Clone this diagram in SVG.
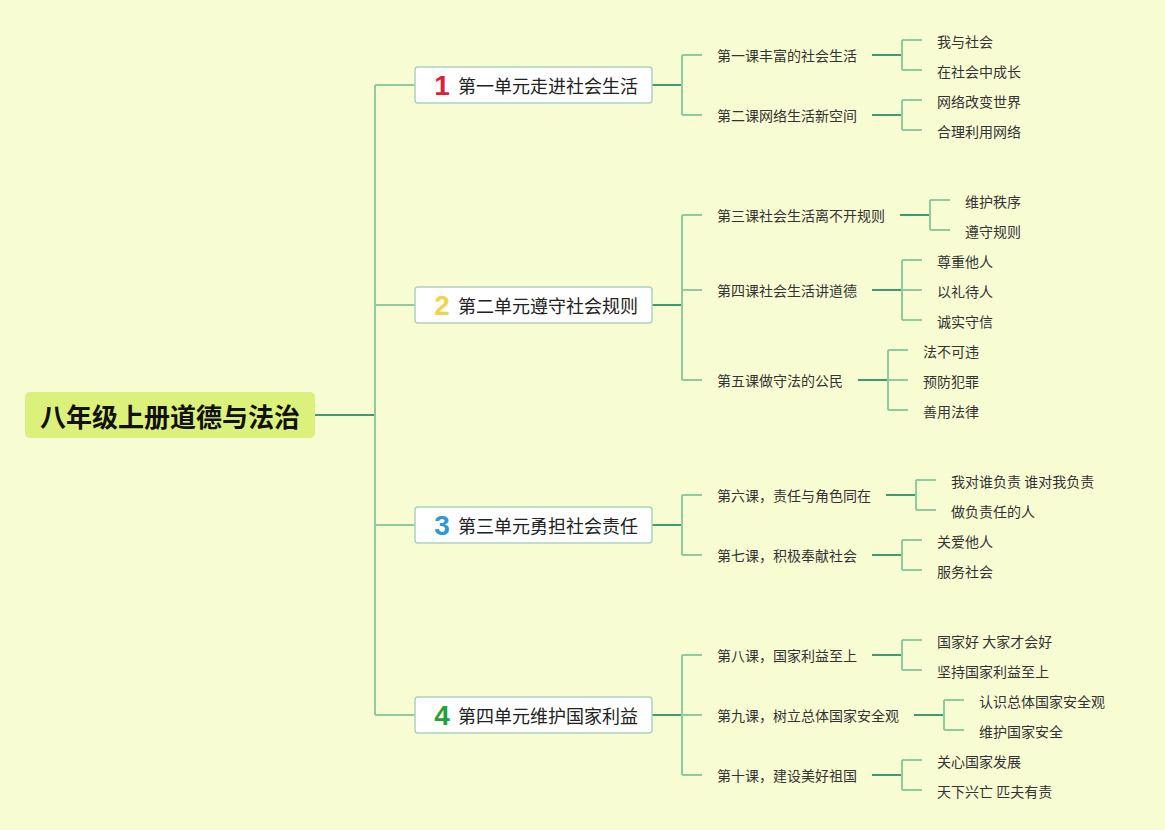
<svg xmlns="http://www.w3.org/2000/svg" width="1165" height="830" viewBox="0 0 1165 830">
<style>
.dk{stroke:#3f9a72;stroke-width:2;fill:none}
.lt{stroke:#8fcaa0;stroke-width:2;fill:none}
.ub{fill:#ffffff;stroke:#a9d2c0;stroke-width:1.5}
text{font-family:"Noto Sans CJK SC","Noto Sans",sans-serif;dominant-baseline:central}
.ut{font-size:18px;fill:#222}
.num{font-size:28px;font-weight:bold;text-anchor:middle;font-family:"Liberation Sans","Noto Sans",sans-serif}
.ls{font-size:14px;fill:#333}
.lf{font-size:14px;fill:#333}
</style>
<rect width="1165" height="830" fill="#f8fcd3"/>
<g id="connectors">
<path class="dk" d="M315 415H375"/>
<path class="lt" d="M375 85V715M375 85H415M375 305H415M375 525H415M375 715H415"/>
<path class="dk" d="M652 85H682M652 305H682M652 525H682M652 715H682"/>
<path class="lt" d="M682 55V115M682 55H702M682 115H702"/>
<path class="lt" d="M682 215V380M682 215H702M682 290H702M682 380H702"/>
<path class="lt" d="M682 495V555M682 495H702M682 555H702"/>
<path class="lt" d="M682 655V775M682 655H702M682 715H702M682 775H702"/>
<path class="dk" d="M872 55H902M872 115H902M900 215H930M872 290H902M858 380H888M886 495H916M872 555H902M872 655H902M914 715H944M872 775H902"/>
<path class="lt" d="M902 40V70M902 40H922M902 70H922"/>
<path class="lt" d="M902 100V130M902 100H922M902 130H922"/>
<path class="lt" d="M930 200V230M930 200H950M930 230H950"/>
<path class="lt" d="M902 260V320M902 260H922M902 290H922M902 320H922"/>
<path class="lt" d="M888 350V410M888 350H908M888 380H908M888 410H908"/>
<path class="lt" d="M916 480V510M916 480H936M916 510H936"/>
<path class="lt" d="M902 540V570M902 540H922M902 570H922"/>
<path class="lt" d="M902 640V670M902 640H922M902 670H922"/>
<path class="lt" d="M944 700V730M944 700H964M944 730H964"/>
<path class="lt" d="M902 760V790M902 760H922M902 790H922"/>
</g>
<g id="root">
<rect x="25" y="392" width="290" height="46" rx="5" fill="#dcf07c"/>
<text x="170" y="415" text-anchor="middle" font-size="26" font-weight="bold" fill="#111">八年级上册道德与法治</text>
</g>
<g id="unit1">
<rect class="ub" x="415" y="67" width="237" height="36" rx="3"/>
<text class="num" x="442" y="85" fill="#e0203a">1</text>
<text class="ut" x="458" y="85">第一单元走进社会生活</text>
</g>
<g id="unit2">
<rect class="ub" x="415" y="287" width="237" height="36" rx="3"/>
<text class="num" x="442" y="305" fill="#f2d44a">2</text>
<text class="ut" x="458" y="305">第二单元遵守社会规则</text>
</g>
<g id="unit3">
<rect class="ub" x="415" y="507" width="237" height="36" rx="3"/>
<text class="num" x="442" y="525" fill="#2a9ad8">3</text>
<text class="ut" x="458" y="525">第三单元勇担社会责任</text>
</g>
<g id="unit4">
<rect class="ub" x="415" y="697" width="237" height="36" rx="3"/>
<text class="num" x="442" y="715" fill="#22a03a">4</text>
<text class="ut" x="458" y="715">第四单元维护国家利益</text>
</g>
<g id="lessons">
<text class="ls" x="717" y="55">第一课丰富的社会生活</text>
<text class="ls" x="717" y="115">第二课网络生活新空间</text>
<text class="ls" x="717" y="215">第三课社会生活离不开规则</text>
<text class="ls" x="717" y="290">第四课社会生活讲道德</text>
<text class="ls" x="717" y="380">第五课做守法的公民</text>
<text class="ls" x="717" y="495">第六课，责任与角色同在</text>
<text class="ls" x="717" y="555">第七课，积极奉献社会</text>
<text class="ls" x="717" y="655">第八课，国家利益至上</text>
<text class="ls" x="717" y="715">第九课，树立总体国家安全观</text>
<text class="ls" x="717" y="775">第十课，建设美好祖国</text>
</g>
<g id="leaves">
<text class="lf" x="937" y="41">我与社会</text>
<text class="lf" x="937" y="71">在社会中成长</text>
<text class="lf" x="937" y="101">网络改变世界</text>
<text class="lf" x="937" y="131">合理利用网络</text>
<text class="lf" x="965" y="201">维护秩序</text>
<text class="lf" x="965" y="231">遵守规则</text>
<text class="lf" x="937" y="261">尊重他人</text>
<text class="lf" x="937" y="291">以礼待人</text>
<text class="lf" x="937" y="321">诚实守信</text>
<text class="lf" x="923" y="351">法不可违</text>
<text class="lf" x="923" y="381">预防犯罪</text>
<text class="lf" x="923" y="411">善用法律</text>
<text class="lf" x="951" y="481">我对谁负责 谁对我负责</text>
<text class="lf" x="951" y="511">做负责任的人</text>
<text class="lf" x="937" y="541">关爱他人</text>
<text class="lf" x="937" y="571">服务社会</text>
<text class="lf" x="937" y="641">国家好 大家才会好</text>
<text class="lf" x="937" y="671">坚持国家利益至上</text>
<text class="lf" x="979" y="701">认识总体国家安全观</text>
<text class="lf" x="979" y="731">维护国家安全</text>
<text class="lf" x="937" y="761">关心国家发展</text>
<text class="lf" x="937" y="791">天下兴亡 匹夫有责</text>
</g>
</svg>
